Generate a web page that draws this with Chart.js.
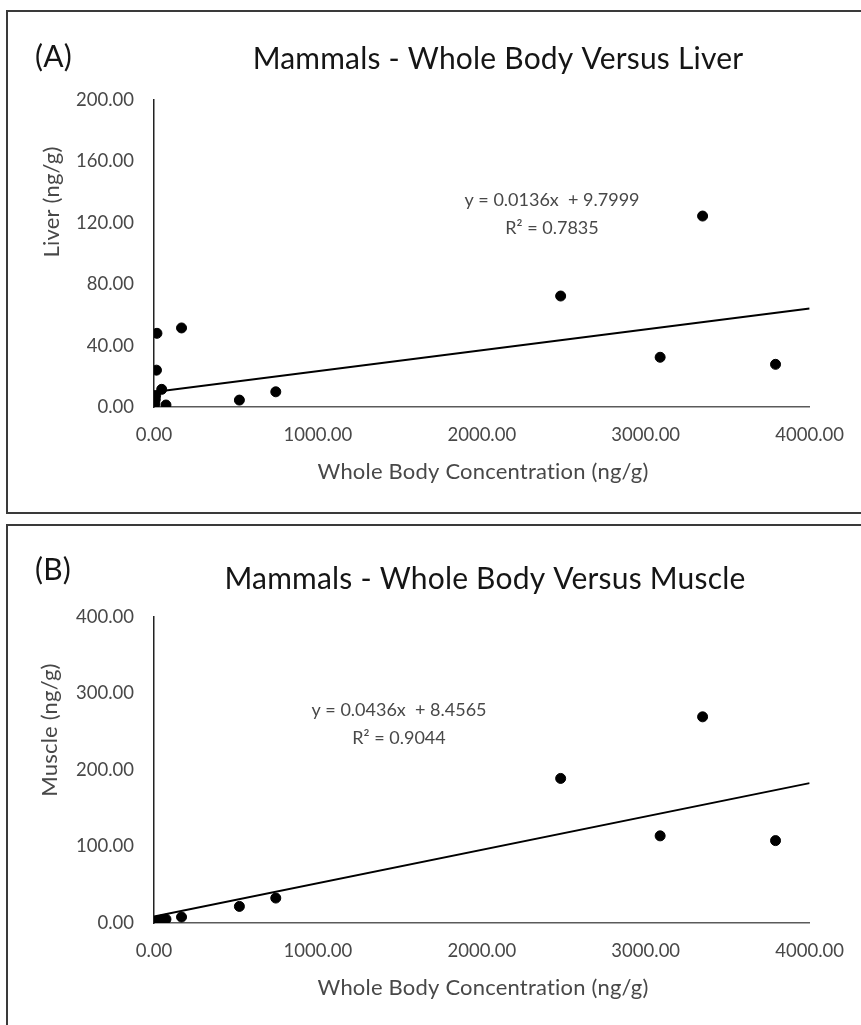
<!DOCTYPE html>
<html lang="en">
<head>
    <meta charset="UTF-8">
    <title>Mammals - Whole Body</title>
    <script src="https://cdn.jsdelivr.net/npm/chart.js"></script>
    <style>
        body{margin:0;background:#fff;overflow:hidden;width:861px;height:1025px;position:relative;font-family:Lato,sans-serif;}
        .caixa{position:absolute;border:2px solid #3a3a3a;border-right:none;}
        #caixaA{left:6px;top:10px;width:900px;height:500px;}
        #caixaB{left:6px;top:524px;width:900px;height:600px;border-bottom:none;}
        canvas{position:absolute;left:0;}
        #graficoA{top:0;}
        #graficoB{top:515px;}
    </style>
</head>
<body>
    <div class="caixa" id="caixaA"></div>
    <div class="caixa" id="caixaB"></div>
    <canvas id="graficoA" width="861" height="515"></canvas>
    <canvas id="graficoB" width="861" height="510"></canvas>
<script>
    // dados (ng/g)
    const corpoInteiro = [2, 5, 8, 10, 15, 18, 47, 73, 168, 521, 743, 2481, 3088, 3347, 3792]
    const figado = [0.5, 2.5, 5, 7.5, 24, 48, 11.5, 1.3, 51.5, 4.5, 9.9, 72.3, 32.4, 124.4, 27.8]
    const musculo = [0.3, 0.8, 1.2, 1.5, 1.8, 2.5, 4, 5, 7.8, 21.7, 32.6, 189, 113.9, 269.5, 107.7]

    // retas de tendencia (equacao mostrada no grafico)
    const retaFigado = {a: 0.0136, b: 9.7999, r2: '0.7835'}
    const retaMusculo = {a: 0.0436, b: 8.4565, r2: '0.9044'}

    const ticksX = [0, 1000, 2000, 3000, 4000]
    const ticksFigado = [0, 40, 80, 120, 160, 200]
    const ticksMusculo = [0, 100, 200, 300, 400]

    const cinza = '#484848'

    function pontos(ys){
        return corpoInteiro.map((x, i) => ({x: x, y: ys[i]}))
    }

    function reta(r){
        const x0 = ticksX[0], x1 = ticksX[ticksX.length - 1]
        return [{x: x0, y: r.a * x0 + r.b}, {x: x1, y: r.a * x1 + r.b}]
    }

    function textos(t){
        return {
            id: 'textos',
            afterDraw(chart){
                const c = chart.ctx
                c.save()
                c.letterSpacing = '0.2px' // sem ligaduras tipo "ti"
                c.textBaseline = 'middle'
                c.fillStyle = '#151515'
                c.font = '30px Lato'
                c.textAlign = 'left'
                c.fillText(t.letra, 35, t.letraY)
                c.font = '30px Lato'
                c.textAlign = 'center'
                c.fillText(t.titulo, t.tituloX, t.tituloY)
                c.fillStyle = cinza
                c.font = '22px Lato'
                c.fillText(t.eixoX, t.eixoXx, t.eixoXy)
                c.translate(t.eixoYx, t.eixoYy)
                c.rotate(-Math.PI / 2)
                c.fillText(t.eixoY, 0, 0)
                c.restore()
                c.save()
                c.textBaseline = 'middle'
                c.textAlign = 'center'
                c.fillStyle = cinza
                c.font = '18px Lato'
                c.fillText(t.eq1, t.eqX, t.eqY)
                c.fillText(t.eq2, t.eqX, t.eqY + 28)
                c.restore()
            }
        }
    }

    function criar(canvas, ys, r, ticksY, pad, t){
        const maxY = ticksY[ticksY.length - 1]
        return new Chart(canvas, {
            type: 'scatter',
            data: {
                datasets: [{
                    data: pontos(ys),
                    backgroundColor: '#000',
                    borderColor: '#000',
                    pointRadius: 5,
                    pointHoverRadius: 5
                },
                {
                    type: 'line',
                    data: reta(r),
                    borderColor: '#000',
                    borderWidth: 2,
                    pointRadius: 0,
                    fill: false
                }]
            },
            options: {
                responsive: false,
                animation: false,
                events: [],
                layout: {padding: pad},
                plugins: {legend: {display: false}, tooltip: {enabled: false}},
                scales: {
                    x: {
                        type: 'linear',
                        min: ticksX[0],
                        max: ticksX[ticksX.length - 1],
                        afterFit: s => { s.height = 60 },
                        afterBuildTicks: s => { s.ticks = ticksX.map(v => ({value: v})) },
                        grid: {display: false, drawTicks: false},
                        border: {display: true, color: '#5a5a5a', width: 1.5},
                        ticks: {color: cinza, padding: 17, font: {family: 'Lato', size: 18.5}, callback: v => v.toFixed(2)}
                    },
                    y: {
                        min: ticksY[0],
                        max: maxY,
                        afterFit: s => { s.width = 80 },
                        afterBuildTicks: s => { s.ticks = ticksY.map(v => ({value: v})) },
                        grid: {display: false, drawTicks: false},
                        border: {display: true, color: '#222', width: 1.5},
                        ticks: {color: cinza, padding: 20, font: {family: 'Lato', size: 18.5}, callback: v => v.toFixed(2)}
                    }
                }
            },
            plugins: [textos(t)]
        })
    }

    criar(document.getElementById('graficoA'), figado, retaFigado, ticksFigado,
        {top: 100, left: 74, right: 50, bottom: 48},
        {letra: '(A)', letraY: 57, titulo: 'Mammals - Whole Body Versus Liver', tituloX: 498, tituloY: 59,
         eixoX: 'Whole Body Concentration (ng/g)', eixoXx: 483, eixoXy: 472,
         eixoY: 'Liver (ng/g)', eixoYx: 52, eixoYy: 202,
         eq1: 'y = 0.0136x  + 9.7999', eq2: 'R² = ' + retaFigado.r2, eqX: 552, eqY: 200})

    criar(document.getElementById('graficoB'), musculo, retaMusculo, ticksMusculo,
        {top: 102, left: 74, right: 50, bottom: 42},
        {letra: '(B)', letraY: 55, titulo: 'Mammals - Whole Body Versus Muscle', tituloX: 485, tituloY: 64,
         eixoX: 'Whole Body Concentration (ng/g)', eixoXx: 483, eixoXy: 473,
         eixoY: 'Muscle (ng/g)', eixoYx: 50, eixoYy: 215,
         eq1: 'y = 0.0436x  + 8.4565', eq2: 'R² = ' + retaMusculo.r2, eqX: 399, eqY: 195})
</script>
</body>
</html>
